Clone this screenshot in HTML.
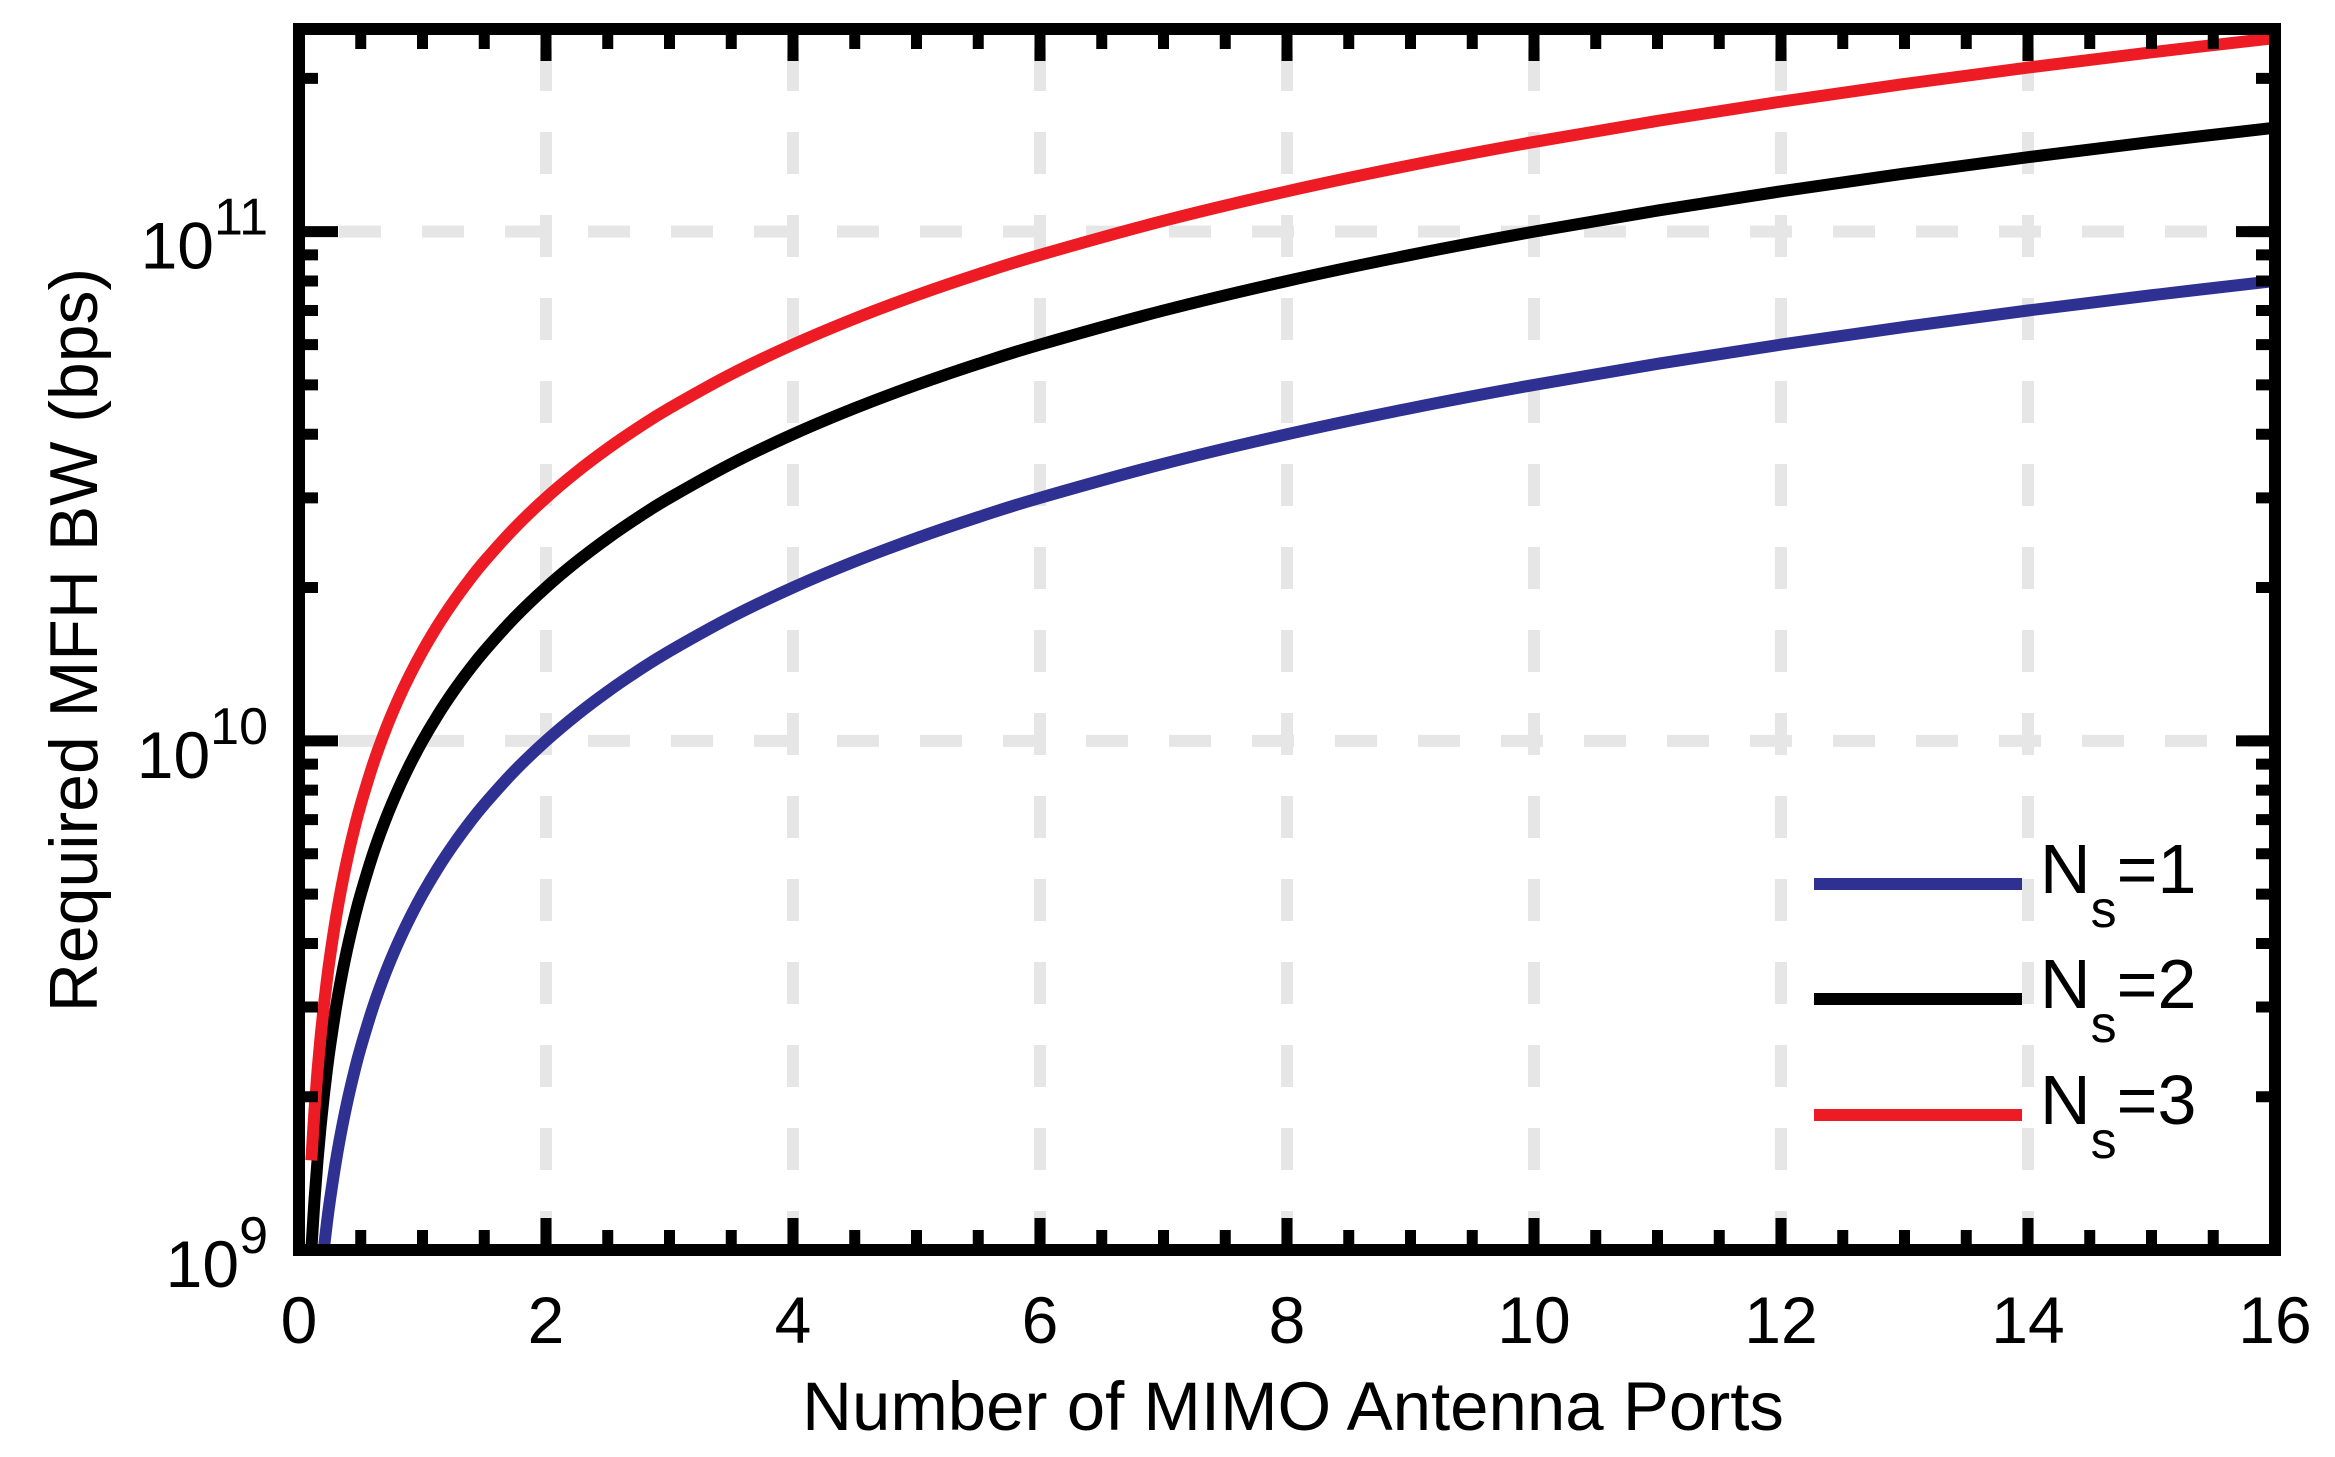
<!DOCTYPE html>
<html><head><meta charset="utf-8"><style>
html,body{margin:0;padding:0;background:#fff;}
svg{display:block;font-family:"Liberation Sans",Arial,sans-serif;}
</style></head><body>
<svg id="chart" width="2335" height="1457" viewBox="0 0 2335 1457" xmlns="http://www.w3.org/2000/svg">
<g id="grid"></g>
<g id="series"></g>
<g id="axes"></g>
<g id="labels"></g>
<text x="1293" y="1430" font-size="69" text-anchor="middle">Number of MIMO Antenna Ports</text>
<text transform="translate(97,640) rotate(-90)" font-size="68" text-anchor="middle">Required MFH BW (bps)</text>
<g id="legend"></g>
</svg>
<script>
const xValues = [0.1,0.125,0.15,0.175,0.2,0.225,0.25,0.3,0.35,0.4,0.45,0.5,0.6,0.7,0.8,0.9,1,1.125,1.25,1.375,1.5,1.75,2,2.25,2.5,2.75,3,3.5,4,4.5,5,5.5,6,7,8,9,10,11,12,13,14,15,16];
const ns1 = [0.5,0.625,0.75,0.875,1,1.125,1.25,1.5,1.75,2,2.25,2.5,3,3.5,4,4.5,5,5.625,6.25,6.875,7.5,8.75,10,11.25,12.5,13.75,15,17.5,20,22.5,25,27.5,30,35,40,45,50,55,60,65,70,75,80];
const ns2 = [1,1.25,1.5,1.75,2,2.25,2.5,3,3.5,4,4.5,5,6,7,8,9,10,11.25,12.5,13.75,15,17.5,20,22.5,25,27.5,30,35,40,45,50,55,60,70,80,90,100,110,120,130,140,150,160];
const ns3 = [1.5,1.875,2.25,2.625,3,3.375,3.75,4.5,5.25,6,6.75,7.5,9,10.5,12,13.5,15,16.875,18.75,20.625,22.5,26.25,30,33.75,37.5,41.25,45,52.5,60,67.5,75,82.5,90,105,120,135,150,165,180,195,210,225,240];
const seriesNames = ["Ns=1","Ns=2","Ns=3"];
const xTickLabels = [0,2,4,6,8,10,12,14,16];
const yDecades = [9,10,11];

const NS="http://www.w3.org/2000/svg";
const L=299,R=2275,T=29,B=1250;
const xMin=0,xMax=16,yMinLog=9,yMaxLog=Math.log10(2.5e11);
const xs=v=>L+(v-xMin)/(xMax-xMin)*(R-L);
const ys=v=>B-(Math.log10(v*1e9)-yMinLog)/(yMaxLog-yMinLog)*(B-T);
function mk(tag,attrs,parent){const e=document.createElementNS(NS,tag);for(const k in attrs)e.setAttribute(k,attrs[k]);parent.appendChild(e);return e;}
const grid=document.getElementById('grid'),axes=document.getElementById('axes'),labels=document.getElementById('labels'),ser=document.getElementById('series'),leg=document.getElementById('legend');

xTickLabels.slice(1,-1).forEach(v=>{
  const g=mk('line',{x1:xs(v),x2:xs(v),y1:T,y2:B,stroke:'#e6e6e6','stroke-width':12,'stroke-dasharray':'42 41','stroke-dashoffset':63},grid);
  
  
});
yDecades.slice(1).forEach(d=>{
  const y=ys(Math.pow(10,d-9));
  const g=mk('line',{x1:L,x2:R,y1:y,y2:y,stroke:'#e6e6e6','stroke-width':12,'stroke-dasharray':'42 41','stroke-dashoffset':43},grid);
  
  
});

const clip=mk('clipPath',{id:'pc'},document.getElementById('chart'));
mk('rect',{x:L,y:T,width:R-L,height:B-T},clip);
const colors=['#2e3192','#000000','#ed1c24'];
function smoothPath(pts){
  let d='M'+pts[0][0].toFixed(2)+','+pts[0][1].toFixed(2);
  for(let i=0;i<pts.length-1;i++){
    const p0=pts[Math.max(0,i-1)],p1=pts[i],p2=pts[i+1],p3=pts[Math.min(pts.length-1,i+2)];
    const c1x=p1[0]+(p2[0]-p0[0])/6,c1y=p1[1]+(p2[1]-p0[1])/6;
    const c2x=p2[0]-(p3[0]-p1[0])/6,c2y=p2[1]-(p3[1]-p1[1])/6;
    d+=' C'+c1x.toFixed(2)+','+c1y.toFixed(2)+' '+c2x.toFixed(2)+','+c2y.toFixed(2)+' '+p2[0].toFixed(2)+','+p2[1].toFixed(2);
  }
  return d;
}
[ns1,ns2,ns3].forEach((arr,i)=>{
  const pts=arr.map((v,j)=>[xs(xValues[j]),ys(v)]);
  const p=mk('path',{d:smoothPath(pts),fill:'none',stroke:colors[i],'stroke-width':12,'clip-path':'url(#pc)'},ser);
  
  
});

for(let k=0;k<=32;k++){
  const v=k*0.5,x=xs(v),len=(k%4===0)?32:20;
  if(k===0||k===32)continue;
  const t1=mk('line',{x1:x,x2:x,y1:B,y2:B-len,stroke:'#000','stroke-width':11},axes);
  
  
  const t2=mk('line',{x1:x,x2:x,y1:T,y2:T+len,stroke:'#000','stroke-width':11},axes);
  
  
}
for(let d=9;d<=11;d++){
  for(let m=1;m<=9;m++){
    const v=m*Math.pow(10,d-9);const y=ys(v);
    if(y<T+2||y>B-2)continue;
    const len=m===1?39:19;
    const t1=mk('line',{x1:L,x2:L+len,y1:y,y2:y,stroke:'#000','stroke-width':11},axes);
    
    
    const t2=mk('line',{x1:R,x2:R-len,y1:y,y2:y,stroke:'#000','stroke-width':11},axes);
    
    
  }
}
const frame=mk('rect',{x:L,y:T,width:R-L,height:B-T,fill:'none',stroke:'#000','stroke-width':12},axes);



xTickLabels.forEach(v=>{
  const t=mk('text',{x:xs(v),y:1343,'font-size':66,'text-anchor':'middle'},labels);
  t.textContent=v;
  
  
});
yDecades.forEach(d=>{
  const y=ys(Math.pow(10,d-9));
  const t=mk('text',{x:268,y:y+37,'font-size':66,'text-anchor':'end'},labels);
  
  
  const a=mk('tspan',{},t);a.textContent='10';
  const b=mk('tspan',{dy:-34,'font-size':52},t);b.textContent=String(d);
});

const legY=[884,999,1115];
seriesNames.forEach((n,i)=>{
  const l=mk('line',{x1:1814,x2:2022,y1:legY[i],y2:legY[i],stroke:colors[i],'stroke-width':12},leg);
  
  
  const t=mk('text',{x:2040,y:legY[i]+9,'font-size':70},leg);
  
  
  const a=mk('tspan',{},t);a.textContent='N';
  const b=mk('tspan',{dy:34,'font-size':52},t);b.textContent='s';
  const c=mk('tspan',{dy:-34},t);c.textContent=n.slice(2);
});
</script>
</body></html>
